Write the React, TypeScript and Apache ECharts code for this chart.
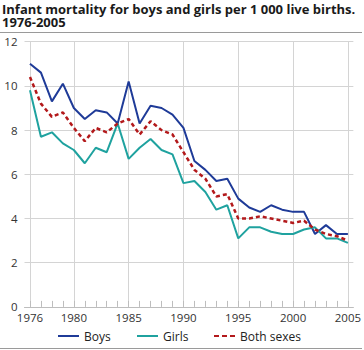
import React, { useEffect, useRef } from "react";
import * as echarts from "echarts";

const years = [
  "1976", "1977", "1978", "1979", "1980", "1981", "1982", "1983", "1984", "1985",
  "1986", "1987", "1988", "1989", "1990", "1991", "1992", "1993", "1994", "1995",
  "1996", "1997", "1998", "1999", "2000", "2001", "2002", "2003", "2004", "2005",
];
const labelledYears = ["1976", "1980", "1985", "1990", "1995", "2000", "2005"];

const boys = [
  11.0, 10.6, 9.3, 10.1, 9.0, 8.5, 8.9, 8.8, 8.3, 10.2,
  8.3, 9.1, 9.0, 8.7, 8.1, 6.6, 6.2, 5.7, 5.8, 4.9,
  4.5, 4.3, 4.6, 4.4, 4.3, 4.3, 3.3, 3.7, 3.3, 3.3,
];
const girls = [
  9.8, 7.7, 7.9, 7.4, 7.1, 6.5, 7.2, 7.0, 8.3, 6.7,
  7.2, 7.6, 7.1, 6.9, 5.6, 5.7, 5.2, 4.4, 4.6, 3.1,
  3.6, 3.6, 3.4, 3.3, 3.3, 3.5, 3.6, 3.1, 3.1, 2.9,
];
const both = [
  10.4, 9.2, 8.6, 8.8, 8.1, 7.5, 8.1, 7.9, 8.3, 8.5,
  7.8, 8.4, 8.0, 7.8, 7.0, 6.2, 5.8, 5.0, 5.1, 4.0,
  4.0, 4.1, 4.0, 3.9, 3.8, 3.9, 3.5, 3.3, 3.2, 3.0,
];

const titleLines = [
  "Infant mortality for boys and girls per 1 000 live births.",
  "1976-2005",
];

const BOYS_COLOR = "#1f3b98";
const GIRLS_COLOR = "#1fa29f";
const BOTH_COLOR = "#b3191b";
const FONT = "'Open Sans', 'Liberation Sans', sans-serif";

const SOLID_ICON = "path://M0,0h21v2h-21z";
const DASH_ICON = "path://M0,0h5v2h-5z M8,0h5v2h-5z M16,0h5v2h-5z";

export default function App() {
  const ref = useRef<HTMLDivElement>(null);

  useEffect(() => {
    if (!ref.current) return;
    const chart = echarts.init(ref.current, undefined, { renderer: "svg" });
    const showYear = (i: number) => labelledYears.indexOf(years[i]) >= 0;
    const legendText = { fontFamily: FONT, fontSize: 12, color: "#222" };

    chart.setOption({
      animation: false,
      graphic: [
        {
          type: "text", left: 2, top: 2,
          style: { text: titleLines[0], font: `bold 13px ${FONT}`, lineHeight: 13, fill: "#1a1a1a" },
        },
        {
          type: "text", left: 2, top: 15.5,
          style: { text: titleLines[1], font: `bold 13px ${FONT}`, lineHeight: 13, fill: "#1a1a1a" },
        },
        { type: "line", shape: { x1: 0, y1: 32.5, x2: 362, y2: 32.5 }, style: { stroke: "#9a9a9a", lineWidth: 1 } },
        { type: "line", shape: { x1: 0, y1: 348.5, x2: 362, y2: 348.5 }, style: { stroke: "#9a9a9a", lineWidth: 1 } },
      ],
      legend: [
        {
          data: [{ name: "Boys", icon: SOLID_ICON }], left: 58, top: 330, itemWidth: 21, itemHeight: 2,
          textStyle: legendText, padding: 0,
        },
        {
          data: [{ name: "Girls", icon: SOLID_ICON }], left: 137, top: 330, itemWidth: 21, itemHeight: 2,
          textStyle: legendText, padding: 0,
        },
        {
          data: [{ name: "Both sexes", icon: DASH_ICON }], left: 214, top: 330, itemWidth: 21, itemHeight: 2,
          textStyle: legendText, padding: 0,
        },
      ],
      grid: { left: 24.5, right: 8.5, top: 41.7, bottom: 43.1, containLabel: false },
      xAxis: {
        type: "category",
        data: years,
        boundaryGap: true,
        axisLine: { show: true, lineStyle: { color: "#bdbdbd", width: 1 } },
        axisTick: { show: true, alignWithLabel: true, inside: true, length: 6, interval: 0, lineStyle: { color: "#bdbdbd" } },
        axisLabel: {
          interval: (i: number) => showYear(i),
          fontFamily: FONT, fontSize: 11.5, color: "#333", margin: 5,
        },
        splitLine: {
          show: true,
          alignWithLabel: true,
          interval: (i: number) => showYear(i),
          lineStyle: { color: "#d4d4d4", width: 1 },
        },
      },
      yAxis: {
        type: "value",
        min: 0,
        max: 12,
        interval: 2,
        axisLine: { show: false },
        axisTick: { show: false },
        axisLabel: { fontFamily: FONT, fontSize: 11.5, color: "#333", margin: 7 },
        splitLine: { show: true, lineStyle: { color: "#d4d4d4", width: 1 } },
      },
      series: [
        {
          name: "Boys", type: "line", data: boys, symbol: "none",
          lineStyle: { color: BOYS_COLOR, width: 2 }, itemStyle: { color: BOYS_COLOR },
        },
        {
          name: "Girls", type: "line", data: girls, symbol: "none",
          lineStyle: { color: GIRLS_COLOR, width: 2 }, itemStyle: { color: GIRLS_COLOR },
        },
        {
          name: "Both sexes", type: "line", data: both, symbol: "none",
          lineStyle: { color: BOTH_COLOR, width: 2.5, type: [4, 3] }, itemStyle: { color: BOTH_COLOR },
        },
      ],
    });
    return () => chart.dispose();
  }, []);

  return (
    <div
      ref={ref}
      style={{ position: "fixed", left: 0, top: 0, width: 364, height: 350, background: "#fff" }}
    />
  );
}
